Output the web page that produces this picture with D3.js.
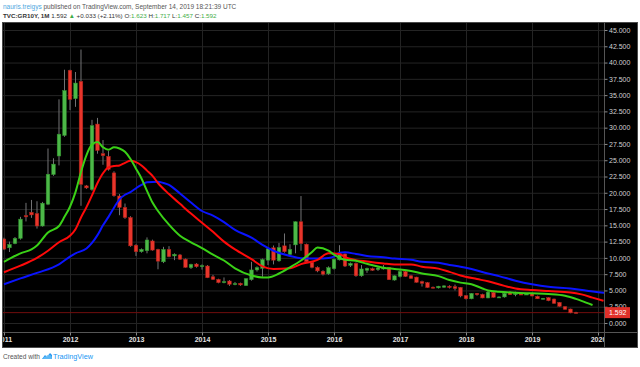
<!DOCTYPE html>
<meta charset="utf-8">
<style>
body { margin: 0; background: #fff; }
svg { display: block; font-family: "Liberation Sans", Arial, sans-serif; }
</style>
<svg width="640" height="367"></svg>
<script src="https://cdn.jsdelivr.net/npm/d3@7"></script>
<script>

// monthly candles, bar 0 = Jan 2011
var open  = [12.9, 11.55, 12.2, 13.0, 16.5, 17.0, 16.8, 14.9, 18.25, 22.8, 25.65, 28.8,
             38.8, 34.45, 37.1, 21.06, 20.5, 30.55, 26.0, 25.6, 23.05, 19.5, 17.75, 16.2,
             11.95, 10.95, 11.1, 12.6, 11.3, 9.4, 11.3, 10.3, 10.45, 9.8, 8.5, 9.05,
             8.65, 8.75, 7.1, 6.7, 6.2, 6.45, 5.95, 6.1, 5.75, 6.65, 8.15, 8.4,
             9.65, 11.55, 9.55, 11.85, 10.55, 12.0, 15.55, 12.1, 9.3, 8.55, 7.95, 7.55,
             8.35, 9.7, 10.6, 8.85, 9.15, 7.25, 8.1, 8.35, 8.2, 8.3, 8.5, 6.6,
             7.15, 7.9, 7.25, 7.05, 6.35, 6.2, 5.5, 5.4, 5.5, 5.65, 5.57, 5.47,
             4.2, 3.72, 4.55, 4.4, 3.85, 4.7, 3.95, 4.0, 4.7, 4.35, 4.45, 4.4,
             4.5, 4.1, 3.72, 3.9, 3.68, 3.17, 2.5, 2.15, 1.623];
var high  = [13.1, 12.5, 13.2, 16.3, 18.45, 18.9, 18.7, 18.6, 26.8, 25.3, 34.35, 38.9,
             38.9, 38.55, 42.0, 21.2, 31.2, 31.5, 28.1, 26.4, 23.3, 19.8, 18.35, 16.4,
             12.1, 11.45, 13.15, 12.8, 11.4, 11.7, 11.8, 10.7, 10.6, 9.9, 9.1, 9.2,
             9.0, 8.9, 7.4, 6.8, 7.0, 6.6, 6.3, 6.2, 6.9, 9.4, 8.7, 9.9,
             11.6, 11.9, 12.3, 13.75, 12.1, 15.6, 19.5, 12.2, 9.4, 8.7, 8.1, 8.7,
             9.9, 11.95, 10.7, 9.3, 9.3, 8.9, 8.5, 8.5, 8.6, 8.9, 8.6, 7.3,
             8.1, 8.0, 7.4, 7.1, 6.5, 6.3, 5.6, 5.7, 5.8, 5.8, 5.9, 5.5,
             4.3, 4.6, 4.6, 4.5, 4.9, 4.8, 4.1, 4.6, 4.85, 4.8, 4.6, 4.55,
             4.6, 4.2, 3.85, 3.95, 3.75, 3.2, 2.6, 2.2, 1.717];
var low   = [11.2, 10.9, 12.1, 12.8, 15.6, 16.15, 14.5, 14.8, 18.1, 22.6, 24.2, 28.6,
             32.7, 33.2, 18.0, 20.6, 20.3, 26.0, 24.3, 23.4, 19.4, 16.55, 16.0, 11.7,
             10.3, 10.8, 10.7, 11.1, 8.25, 9.2, 10.1, 9.65, 9.7, 8.5, 8.3, 8.5,
             8.2, 6.9, 6.6, 6.1, 6.1, 5.7, 5.8, 5.7, 5.7, 6.5, 7.9, 7.1,
             8.9, 9.0, 9.4, 10.8, 10.4, 10.7, 11.1, 9.3, 8.4, 7.8, 7.3, 7.4,
             8.2, 9.6, 8.6, 8.6, 7.1, 7.1, 7.7, 8.0, 8.0, 8.2, 6.6, 6.5,
             7.0, 7.1, 6.8, 6.2, 5.6, 5.4, 5.3, 5.3, 5.4, 5.3, 5.0, 3.95,
             3.6, 3.65, 4.2, 3.8, 3.8, 3.9, 3.85, 3.9, 4.3, 4.1, 4.3, 4.3,
             4.1, 3.7, 3.6, 3.35, 2.95, 2.5, 2.05, 1.5, 1.457];
var close = [11.35, 12.07, 13.0, 15.95, 16.3, 16.6, 14.9, 18.4, 22.85, 24.4, 29.0, 35.7,
             34.35, 36.85, 21.3, 20.75, 30.3, 26.5, 25.7, 23.6, 19.55, 17.75, 16.2, 11.85,
             10.95, 11.3, 12.75, 11.2, 9.5, 11.3, 10.2, 10.55, 9.8, 8.55, 9.0, 8.65,
             8.8, 6.95, 6.7, 6.2, 6.35, 5.95, 6.05, 5.85, 6.8, 8.15, 8.5, 9.75,
             11.4, 9.65, 11.6, 10.95, 11.3, 15.55, 12.2, 9.4, 8.55, 8.0, 7.5, 8.5,
             9.8, 10.55, 8.75, 9.15, 7.25, 8.3, 8.4, 8.1, 8.45, 8.5, 6.65, 7.25,
             7.9, 7.15, 6.85, 6.25, 6.1, 5.45, 5.4, 5.65, 5.7, 5.45, 5.3, 4.15,
             3.72, 4.55, 4.35, 3.85, 4.75, 3.95, 4.0, 4.55, 4.35, 4.5, 4.4, 4.45,
             4.15, 3.72, 3.8, 3.42, 3.02, 2.56, 2.1, 1.559, 1.592];

// Alligator lines: bar position and value
var jawAt   = [0, 3, 6, 10, 12, 13, 15, 16, 17, 18, 19, 20, 21, 22, 23, 24, 25, 26, 28, 29, 30, 31, 32, 34, 36, 38, 40, 42, 45, 47, 49, 52, 54, 57, 59, 60, 61, 62, 64, 66, 69, 71, 74, 76, 79, 81, 83, 85, 88, 90, 93, 96, 99, 103, 106, 109, 110];
var jawVal  = [5.95, 6.85, 7.7, 9.0, 10.2, 10.7, 11.45, 12.3, 13.5, 15.0, 16.3, 17.7, 19.0, 19.7, 20.1, 20.7, 21.2, 21.6, 21.7, 21.5, 21.2, 20.6, 19.9, 18.5, 17.2, 16.5, 15.5, 14.3, 13.1, 12.0, 11.1, 10.3, 9.95, 9.9, 10.0, 10.2, 10.8, 10.85, 10.6, 10.3, 10.1, 9.9, 9.7, 9.4, 9.25, 8.9, 8.65, 8.3, 7.6, 7.2, 6.5, 5.95, 5.55, 5.3, 4.95, 4.65, 4.6];
var teethAt  = [0, 3, 6, 8, 10, 12, 13, 14, 15, 16, 17, 18, 19, 20, 21, 22, 23, 24, 25, 26, 27, 28, 30, 32, 34, 36, 38, 40, 42, 45, 47, 49, 52, 54, 57, 59, 61, 62, 64, 66, 69, 71, 74, 76, 79, 81, 83, 86, 88, 91, 93, 96, 99, 103, 105, 107, 109];
var teethVal = [7.8, 8.8, 10.0, 11.1, 12.4, 13.4, 14.4, 16.2, 17.8, 19.6, 21.5, 23.0, 23.9, 24.1, 24.2, 24.6, 24.9, 24.7, 24.2, 23.4, 22.6, 21.5, 19.8, 18.3, 16.8, 15.4, 14.0, 12.5, 11.3, 9.8, 8.7, 8.3, 8.4, 9.05, 9.7, 10.7, 10.6, 10.1, 9.65, 9.45, 9.15, 9.0, 9.0, 8.65, 8.35, 7.85, 7.3, 6.75, 6.4, 5.7, 5.3, 5.05, 4.9, 4.7, 4.4, 3.9, 3.4];
var lipsAt  = [0, 3, 5, 6, 8, 10, 11, 12, 13, 14, 15, 16, 17, 18, 19, 20, 21, 22, 23, 24, 25, 26, 27, 28, 30, 32, 34, 36, 38, 40, 42, 45, 47, 48, 50, 52, 54, 56, 57, 59, 60, 62, 64, 66, 69, 71, 74, 76, 79, 81, 83, 85, 87, 88, 90, 93, 96, 99, 102, 104, 105, 107];
var lipsVal = [9.4, 10.7, 11.3, 11.9, 13.9, 14.9, 16.3, 17.85, 20.1, 23.2, 25.8, 27.4, 27.8, 27.0, 26.6, 27.0, 26.8, 26.3, 25.2, 23.7, 22.2, 20.3, 18.5, 17.2, 15.1, 13.4, 12.4, 11.5, 10.5, 9.6, 8.4, 7.3, 7.0, 7.0, 7.6, 8.55, 9.6, 10.9, 11.6, 11.1, 10.5, 9.7, 9.55, 9.1, 8.5, 8.3, 8.0, 7.6, 7.2, 6.6, 6.2, 5.95, 5.3, 5.0, 4.8, 4.65, 4.55, 4.45, 4.2, 3.7, 3.4, 2.75];

var yearAt = [0, 12, 24, 36, 48, 60, 72, 84, 96, 108];
var yearLabels = ["2011", "2012", "2013", "2014", "2015", "2016", "2017", "2018", "2019", "2020"];
var priceTicks = [0, 2.5, 5, 7.5, 10, 12.5, 15, 17.5, 20, 22.5, 25, 27.5, 30, 32.5, 35, 37.5, 40, 42.5, 45];
var lastPrice = 1.592;

var svg = d3.select("svg");
var pane = {left: 3, right: 604, top: 23, bottom: 332};

var x = d3.scaleLinear().domain([-0.18, 109.09]).range([pane.left, pane.right]);
var y = d3.scaleLinear().domain([0, 45]).range([323, 30]);

// frame
svg.append("rect").attr("x", 2.5).attr("y", 22.5).attr("width", 635).attr("height", 325)
  .attr("fill", "#000").attr("stroke", "#4a4a4a");

svg.append("clipPath").attr("id", "clip").append("rect")
  .attr("x", pane.left).attr("y", pane.top)
  .attr("width", pane.right - pane.left).attr("height", pane.bottom - pane.top);
svg.append("clipPath").attr("id", "clipx").append("rect")
  .attr("x", pane.left).attr("y", pane.bottom)
  .attr("width", pane.right - pane.left).attr("height", 16);

var plot = svg.append("g").attr("clip-path", "url(#clip)");

// grid
plot.append("g").attr("transform", "translate(" + pane.left + ",0)")
  .call(d3.axisLeft(y).tickValues(priceTicks).tickSize(-(pane.right - pane.left)).tickFormat(""))
  .call(g => g.select(".domain").remove())
  .call(g => g.selectAll("line").attr("stroke", "#242424"));
plot.append("g").attr("transform", "translate(0," + pane.bottom + ")")
  .call(d3.axisBottom(x).tickValues(yearAt).tickSize(-(pane.bottom - pane.top)).tickFormat(""))
  .call(g => g.select(".domain").remove())
  .call(g => g.selectAll("line").attr("stroke", "#242424"));

// last price line
plot.append("line").attr("x1", pane.left).attr("x2", pane.right)
  .attr("y1", y(lastPrice)).attr("y2", y(lastPrice))
  .attr("stroke", "#700d0d");

// candles
var bars = d3.range(close.length);
var up = i => close[i] >= open[i];

plot.append("g").selectAll("line").data(bars).join("line")
  .attr("x1", i => x(i)).attr("x2", i => x(i))
  .attr("y1", i => y(high[i])).attr("y2", i => y(low[i]))
  .attr("stroke", "#737375");

plot.append("g").selectAll("rect").data(bars).join("rect")
  .attr("x", i => x(i) - 1.8).attr("width", 3.6)
  .attr("y", i => y(Math.max(open[i], close[i])))
  .attr("height", i => Math.max(1, Math.abs(y(open[i]) - y(close[i]))))
  .attr("fill", i => up(i) ? "#4cb848" : "#e8352b")
  .attr("stroke", i => up(i) ? "#2f8f2c" : "#a82018").attr("stroke-width", 0.5);

// alligator
var line = d3.line().x(d => x(d[0])).y(d => y(d[1])).curve(d3.curveMonotoneX);
[[jawAt, jawVal, "#0a14ff"], [teethAt, teethVal, "#ff0a0a"], [lipsAt, lipsVal, "#3ad117"]].forEach(s => {
  plot.append("path").datum(s[0].map((a, k) => [a, s[1][k]]))
    .attr("d", line).attr("fill", "none").attr("stroke", s[2]).attr("stroke-width", 2);
});

// axes separators
svg.append("line").attr("x1", pane.right + 0.5).attr("x2", pane.right + 0.5)
  .attr("y1", 22.5).attr("y2", 347.5).attr("stroke", "#555");
svg.append("line").attr("x1", 2.5).attr("x2", 637.5)
  .attr("y1", pane.bottom + 0.5).attr("y2", pane.bottom + 0.5).attr("stroke", "#555");

// price axis
svg.append("g").attr("transform", "translate(" + (pane.right + 0.5) + ",0)")
  .call(d3.axisRight(y).tickValues(priceTicks).tickFormat(d3.format(".3f")).tickSize(3).tickPadding(1.5))
  .call(g => g.select(".domain").remove())
  .call(g => g.selectAll("line").attr("stroke", "#888"))
  .call(g => g.selectAll("text").attr("fill", "#d0d0d0").attr("font-size", 7)
    .attr("font-family", "Liberation Sans, Arial, sans-serif"));

var tag = svg.append("g").attr("transform", "translate(" + (pane.right + 1) + "," + y(lastPrice) + ")");
tag.append("rect").attr("x", 0).attr("y", -5.5).attr("width", 25).attr("height", 11).attr("fill", "#e0302a");
tag.append("text").attr("x", 4).attr("y", 2.5).attr("fill", "#fff").attr("font-size", 7).text(d3.format(".3f")(lastPrice));

// time axis (labels cut at the pane edges, like the original)
svg.append("g").attr("clip-path", "url(#clipx)")
  .append("g").attr("transform", "translate(0," + (pane.bottom + 0.5) + ")")
  .call(d3.axisBottom(x).tickValues(yearAt).tickFormat((d, k) => yearLabels[k]).tickSize(3).tickPadding(2))
  .call(g => g.select(".domain").remove())
  .call(g => g.selectAll("line").attr("stroke", "#888"))
  .call(g => g.selectAll("text").attr("fill", "#e0e0e0").attr("font-size", 7).attr("font-weight", "bold")
    .attr("font-family", "Liberation Sans, Arial, sans-serif"));

// header
function fit(t, w) {
  var fs = +t.attr("font-size");
  t.attr("font-size", fs * w / t.node().getComputedTextLength());
}
var h1 = svg.append("text").attr("x", 3).attr("y", 8.5).attr("font-size", 6.5).attr("fill", "#555");
h1.append("tspan").attr("fill", "#4ea6e0").text("nauris.treigys");
h1.append("tspan").text(" published on TradingView.com, September 14, 2019 18:21:39 UTC");
fit(h1, 234);

var green = "#3fae49";
var h2 = svg.append("text").attr("x", 3).attr("y", 18.3).attr("font-size", 6.5).attr("fill", "#333");
h2.append("tspan").attr("font-weight", "bold").text("TVC:GR10Y, 1M");
h2.append("tspan").text("  1.592 ");
h2.append("tspan").attr("fill", green).text("▲");
h2.append("tspan").text(" +0.033 (+2.11%) O:");
h2.append("tspan").attr("fill", green).text("1.623");
h2.append("tspan").text(" H:");
h2.append("tspan").attr("fill", green).text("1.717");
h2.append("tspan").text(" L:");
h2.append("tspan").attr("fill", green).text("1.457");
h2.append("tspan").text(" C:");
h2.append("tspan").attr("fill", green).text("1.592");
fit(h2, 214);

// footer
var f1 = svg.append("text").attr("x", 3).attr("y", 359).attr("font-size", 6.5).attr("fill", "#555").text("Created with");
fit(f1, 37);
var logo = svg.append("g").attr("transform", "translate(42,352)");
logo.append("path").attr("d", "M0,7 L3,3 L5,5 L8,1 L10,3 L10,7 Z").attr("fill", "#2196f3");
logo.append("path").attr("d", "M1,7 Q1,4 4,4.5 Q5,2 7.5,3 Q10,3 10,7 Z").attr("fill", "#6cc0f5").attr("opacity", 0.8);
var f2 = svg.append("text").attr("x", 53).attr("y", 359).attr("font-size", 6.5).attr("fill", "#2196f3").text("TradingView");
fit(f2, 40);

</script>
